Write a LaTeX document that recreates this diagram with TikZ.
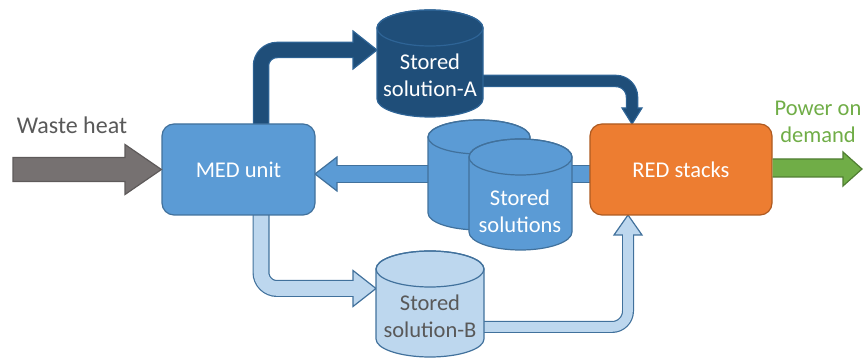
\documentclass[tikz,border=0pt]{standalone}
\usepackage{fontspec}
\setmainfont{Carlito}
\usetikzlibrary{backgrounds}
\definecolor{medblue}{HTML}{5B9BD5}
\definecolor{medborder}{HTML}{41719C}
\definecolor{darkblue}{HTML}{1F4E79}
\definecolor{darkborder}{HTML}{2E6496}
\definecolor{lightblue}{HTML}{BDD7EE}
\definecolor{orangef}{HTML}{ED7D31}
\definecolor{orangeb}{HTML}{AE5A21}
\definecolor{greenf}{HTML}{70AD47}
\definecolor{greenb}{HTML}{507E32}
\definecolor{grayf}{HTML}{767171}
\definecolor{grayb}{HTML}{5E5A5A}
\definecolor{textgray}{HTML}{595959}
\newcommand\cylbody[7]{%
 \filldraw[fill=#6,draw=#7,line width=1.2pt] (#1-#4,#2) -- (#1-#4,#3) arc[start angle=180,end angle=360,x radius=#4,y radius=#5] -- (#1+#4,#2) arc[start angle=0,end angle=180,x radius=#4,y radius=#5] -- cycle;
 \draw[draw=#7,line width=1.2pt] (#1,#2) ellipse[x radius=#4,y radius=#5];}
\tikzset{
 boxnode/.style={rectangle, rounded corners=12pt, line width=1.2pt, inner sep=0pt, text=white, font=\fontsize{22.5}{27}\selectfont},
 cyltext/.style={inner sep=0pt, align=center, font=\fontsize{22.5}{27}\selectfont},
 headline/.style={line width=1.2pt},
 elbow/.style={rounded corners=16pt}
}
\begin{document}
\begin{tikzpicture}[x=1pt,y=1pt]
\useasboundingbox (0,0) rectangle (863,358);
% boxes
\node[boxnode, fill=medblue, draw=medborder, minimum width=153pt, minimum height=91pt] (med) at (238.5,188.5) {MED unit};
\node[boxnode, fill=orangef, draw=orangeb, minimum width=182pt, minimum height=91pt] (red) at (681,188.5) {RED stacks};
% cylinders
\cylbody{430}{330}{259}{53}{18}{darkblue}{darkborder}
\node[cyltext, text=white] (cylA) at (430,283) {Stored\\solution-A};
\cylbody{479}{221}{145}{51}{17}{medblue}{medborder}
\cylbody{520.5}{201}{126}{51.5}{18}{medblue}{medborder}
\node[cyltext, text=white] (cylS) at (520,146.5) {Stored\\solutions};
\cylbody{430}{89}{19}{54}{18}{lightblue}{medborder}
\node[cyltext, text=textgray] (cylB) at (430,42) {Stored\\solution-B};
% coordinates
\coordinate (aA) at (377,308);
\coordinate (aR) at (632,234);
\coordinate (aM) at (315,184);
\coordinate (aB) at (376,69.5);
\coordinate (bR) at (628,143);
% waste heat
\filldraw[fill=grayf, draw=grayb, headline] (13,200.5) -- (125,200.5) -- (125,213.5) -- (med.west) -- (125,163.5) -- (125,176.5) -- (13,176.5) -- cycle;
\node[text=textgray, font=\fontsize{24}{28}\selectfont, inner sep=0pt] (waste) at (72,233) {Waste heat};
% power
\filldraw[fill=greenf, draw=greenb, headline] (red.east |- 0,199) -- (843,199) -- (843,206) -- (862,189) -- (843,172) -- (843,181) -- (red.east |- 0,181);
\node[text=greenf, align=center, font=\fontsize{22.5}{27}\selectfont, inner sep=0pt] (power) at (818,236.5) {Power on\\demand};
\begin{pgfonlayer}{background}
% MED -> A
\draw[darkborder, line width=16.5pt, elbow] (261,230) -- (261,308) -- (355,308);
\filldraw[fill=darkblue, draw=darkborder, headline] (353,327) -- (aA) -- (353,289) -- cycle;
\draw[darkblue, line width=14.1pt, elbow] (261,230) -- (261,308) -- (355,308);
% A -> RED
\draw[darkborder, line width=12.5pt, elbow] (478,277) -- (632,277) -- (632,248);
\filldraw[fill=darkblue, draw=darkborder, headline] (622,250) -- (aR) -- (642,250) -- cycle;
\draw[darkblue, line width=10.1pt, elbow] (478,277) -- (632,277) -- (632,248);
% stored -> MED
\draw[medborder, line width=18pt] (595,184) -- (335,184);
\filldraw[fill=medblue, draw=medborder, headline] (337,201) -- (aM) -- (337,167) -- cycle;
\draw[medblue, line width=15.6pt] (595,184) -- (335,184);
% MED -> B
\draw[medborder, line width=17pt, elbow] (261,146) -- (261,69.5) -- (355,69.5);
\filldraw[fill=lightblue, draw=medborder, headline] (353,87.5) -- (aB) -- (353,51.5) -- cycle;
\draw[lightblue, line width=14.6pt, elbow] (261,146) -- (261,69.5) -- (355,69.5);
% B -> RED
\draw[medborder, line width=12pt, elbow] (479,31) -- (628,31) -- (628,125);
\filldraw[fill=lightblue, draw=medborder, headline] (614,123) -- (bR) -- (642,123) -- cycle;
\draw[lightblue, line width=9.6pt, elbow] (479,31) -- (628,31) -- (628,125);
\end{pgfonlayer}
\end{tikzpicture}
\end{document}
